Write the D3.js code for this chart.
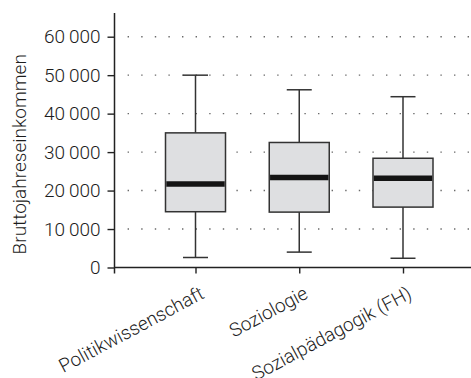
<!DOCTYPE html>
<html>
<head>
<meta charset="utf-8">
<script src="https://cdn.jsdelivr.net/npm/d3@7"></script>
<style>
  html, body { margin: 0; padding: 0; background: #fff; }
  svg { display: block; font-family: Roboto, "Liberation Sans", sans-serif; font-weight: 300; }
</style>
</head>
<body>
<svg id="chart" width="471" height="378"></svg>
<script>
// Annual gross income by field of study (box plot summaries)
const categories = ["Politikwissenschaft", "Soziologie", "Sozialpädagogik (FH)"];
const whiskerLow = [2600, 4000, 2400];
const quartile1  = [14500, 14400, 15700];
const medians    = [21700, 23400, 23200];
const quartile3  = [35000, 32500, 28400];
const whiskerHigh = [50000, 46200, 44400];
const yTicks = [0, 10000, 20000, 30000, 40000, 50000, 60000];
const yTitle = "Bruttojahreseinkommen";

const rows = categories.map((c, i) => ({
  name: c, lo: whiskerLow[i], q1: quartile1[i], med: medians[i], q3: quartile3[i], hi: whiskerHigh[i]
}));

const svg = d3.select("#chart");
const plotLeft = 114.5, plotRight = 471, plotTop = 13, plotBottom = 267.5;
const fontPx = "19px", ink = "#1c1c1c";

const y = d3.scaleLinear().domain([0, 60000]).range([plotBottom, 36.7]);
const x = d3.scalePoint().domain(categories).range([195.5, 403]);

const fmt = d3.formatLocale({ decimal: ",", thousands: "\u2009", grouping: [3], currency: ["", "€"] }).format(",d");

// dotted horizontal grid
svg.append("g")
  .selectAll("line")
  .data(yTicks.filter(d => d > 0))
  .join("line")
  .attr("x1", 127.6).attr("x2", plotRight)
  .attr("y1", d => y(d)).attr("y2", d => y(d))
  .attr("stroke", "#6a6a6a")
  .attr("stroke-width", 1.4)
  .attr("stroke-dasharray", "1.4,12.2");

// y axis
const yAxis = svg.append("g")
  .attr("transform", `translate(${plotLeft},0)`)
  .call(d3.axisLeft(y).tickValues(yTicks).tickFormat(fmt).tickSize(7).tickPadding(7).tickSizeOuter(0));
yAxis.select(".domain").remove();
yAxis.selectAll(".tick line").attr("stroke", "#222").attr("stroke-width", 1.4);
yAxis.selectAll(".tick text")
  .attr("fill", ink)
  .style("font-size", fontPx)
  .style("font-family", "Roboto, sans-serif")
  .style("font-weight", 300);
svg.append("line")
  .attr("x1", plotLeft).attr("x2", plotLeft)
  .attr("y1", plotTop).attr("y2", plotBottom + 6)
  .attr("stroke", "#222").attr("stroke-width", 1.5);

// x axis
const xAxis = svg.append("g")
  .attr("transform", `translate(0,${plotBottom})`)
  .call(d3.axisBottom(x).tickSize(6).tickSizeOuter(0).tickFormat(""));
xAxis.select(".domain").attr("d", `M${plotLeft},0H${plotRight}`).attr("stroke", "#222").attr("stroke-width", 1.5);
xAxis.selectAll(".tick line").attr("stroke", "#222").attr("stroke-width", 1.4);

// rotated category labels
svg.append("g")
  .selectAll("text")
  .data(categories)
  .join("text")
  .attr("transform", d => `translate(${x(d) + 10},${plotBottom + 30}) rotate(-28)`)
  .attr("text-anchor", "end")
  .attr("fill", ink)
  .style("font-size", fontPx)
  .text(d => d);

// y axis title
svg.append("text")
  .attr("transform", `translate(26,${(plotTop + plotBottom) / 2 + 14}) rotate(-90)`)
  .attr("text-anchor", "middle")
  .attr("fill", ink)
  .style("font-size", fontPx)
  .text(yTitle);

// boxes
const boxW = 60, capW = 25;
const g = svg.append("g").selectAll("g").data(rows).join("g");

g.append("line")
  .attr("x1", d => x(d.name)).attr("x2", d => x(d.name))
  .attr("y1", d => y(d.hi)).attr("y2", d => y(d.q3))
  .attr("stroke", "#333").attr("stroke-width", 1.5);
g.append("line")
  .attr("x1", d => x(d.name)).attr("x2", d => x(d.name))
  .attr("y1", d => y(d.q1)).attr("y2", d => y(d.lo))
  .attr("stroke", "#333").attr("stroke-width", 1.5);
g.selectAll(".cap")
  .data(d => [[d.name, d.hi], [d.name, d.lo]])
  .join("line")
  .attr("x1", d => x(d[0]) - capW / 2).attr("x2", d => x(d[0]) + capW / 2)
  .attr("y1", d => y(d[1])).attr("y2", d => y(d[1]))
  .attr("stroke", "#333").attr("stroke-width", 1.5);
g.append("rect")
  .attr("x", d => x(d.name) - boxW / 2)
  .attr("width", boxW)
  .attr("y", d => y(d.q3))
  .attr("height", d => y(d.q1) - y(d.q3))
  .attr("fill", "#dedfe1")
  .attr("stroke", "#333")
  .attr("stroke-width", 1.5);
g.append("line")
  .attr("x1", d => x(d.name) - boxW / 2 + 0.8).attr("x2", d => x(d.name) + boxW / 2 - 0.8)
  .attr("y1", d => y(d.med)).attr("y2", d => y(d.med))
  .attr("stroke", "#141414").attr("stroke-width", 5.5);
</script>
</body>
</html>
